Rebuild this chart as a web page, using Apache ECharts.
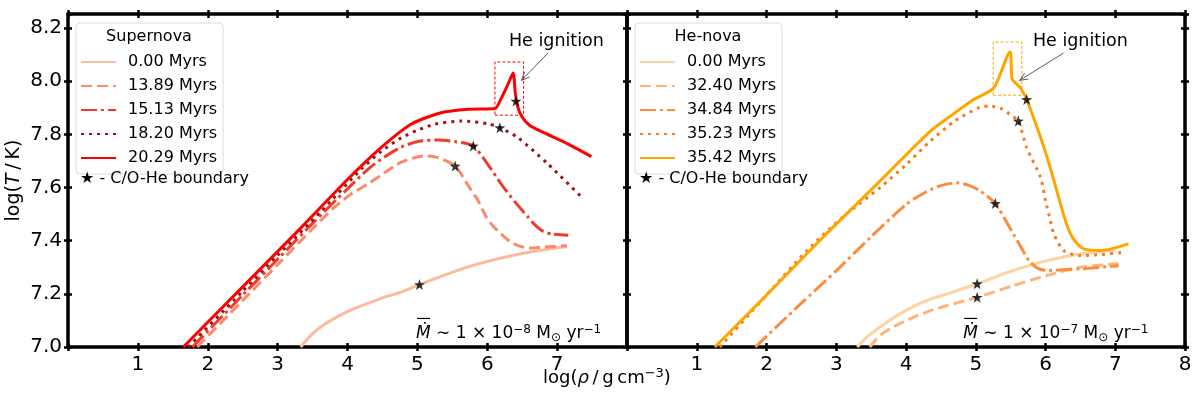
<!DOCTYPE html>
<html>
<head>
<meta charset="utf-8">
<script src="https://cdn.jsdelivr.net/npm/echarts@6/dist/echarts.min.js"></script>
<style>
html,body{margin:0;padding:0;background:#fff;}
#chart{width:1200px;height:395px;}
</style>
</head>
<body>
<div id="chart"></div>
<script>
// ---------------- DATA ----------------
const xTickLabelsLeft = [1, 2, 3, 4, 5, 6, 7];
const xTickLabelsRight = [1, 2, 3, 4, 5, 6, 7, 8];
const yTickLabels = ['7.0', '7.2', '7.4', '7.6', '7.8', '8.0', '8.2'];

const snTitle = 'Supernova';
const hnTitle = 'He-nova';
const snNames = ['0.00 Myrs', '13.89 Myrs', '15.13 Myrs', '18.20 Myrs', '20.29 Myrs'];
const hnNames = ['0.00 Myrs', '32.40 Myrs', '34.84 Myrs', '35.23 Myrs', '35.42 Myrs'];

// Supernova panel
const sn0x = [3.33, 3.5, 3.7, 3.9, 4.1, 4.3, 4.5, 4.75, 5.03, 5.3, 5.6, 5.9, 6.2, 6.5, 6.8, 7.14];
const sn0y = [7.0, 7.05, 7.09, 7.12, 7.145, 7.165, 7.185, 7.205, 7.235, 7.262, 7.29, 7.315, 7.335, 7.352, 7.365, 7.378];
const sn1x = [1.85, 2.5, 3.0, 3.5, 3.81, 4.05, 4.29, 4.53, 4.77, 5.1, 5.3, 5.54, 5.72, 5.87, 5.99, 6.1, 6.2, 6.32, 6.44, 6.6, 6.78, 7.14];
const sn1y = [7.0, 7.175, 7.31, 7.445, 7.525, 7.575, 7.613, 7.655, 7.695, 7.719, 7.712, 7.681, 7.61, 7.55, 7.487, 7.45, 7.425, 7.398, 7.381, 7.372, 7.375, 7.381];
const sn2x = [1.78, 2.5, 3.0, 3.5, 4.0, 4.3, 4.53, 4.77, 5.01, 5.3, 5.55, 5.8, 6.0, 6.2, 6.4, 6.59, 6.68, 6.8, 6.92, 7.16];
const sn2y = [7.0, 7.195, 7.33, 7.465, 7.595, 7.67, 7.715, 7.752, 7.773, 7.779, 7.772, 7.756, 7.69, 7.613, 7.545, 7.487, 7.46, 7.435, 7.425, 7.42];
const sn3x = [1.72, 2.5, 3.0, 3.62, 4.2, 4.48, 4.77, 5.0, 5.25, 5.63, 6.01, 6.18, 6.44, 6.87, 7.33];
const sn3y = [7.0, 7.21, 7.345, 7.51, 7.67, 7.735, 7.787, 7.815, 7.838, 7.85, 7.84, 7.825, 7.787, 7.688, 7.569];
const sn4x = [1.65, 2.5, 3.34, 4.0, 4.48, 4.91, 5.34, 5.73, 6.11, 6.2, 6.3, 6.37, 6.4, 6.43, 6.49, 6.6, 6.78, 7.16, 7.49];
const sn4y = [7.0, 7.226, 7.45, 7.63, 7.75, 7.838, 7.881, 7.894, 7.897, 7.935, 7.99, 8.031, 7.96, 7.91, 7.869, 7.835, 7.81, 7.763, 7.716];
const snStarX = [5.03, 5.54, 5.80, 6.18, 6.41];
const snStarY = [7.235, 7.681, 7.756, 7.825, 7.925];
const snBoxX = [6.11, 6.52, 6.52, 6.11, 6.11];
const snBoxY = [7.872, 7.872, 8.072, 8.072, 7.872];

// He-nova panel
const hn0x = [3.30, 3.45, 3.63, 3.85, 4.11, 4.35, 4.59, 5.02, 5.54, 6.02, 6.5, 6.75, 7.0];
const hn0y = [7.0, 7.04, 7.075, 7.115, 7.153, 7.18, 7.2, 7.238, 7.288, 7.325, 7.35, 7.358, 7.365];
const hn1x = [3.48, 3.63, 3.85, 4.11, 4.35, 4.59, 5.02, 5.54, 6.02, 6.5, 7.05];
const hn1y = [7.0, 7.044, 7.08, 7.112, 7.137, 7.156, 7.187, 7.231, 7.269, 7.30, 7.313];
const hn2x = [1.84, 2.5, 3.01, 3.5, 4.01, 4.3, 4.5, 4.73, 4.9, 5.06, 5.28, 5.42, 5.54, 5.66, 5.78, 5.9, 6.02, 6.5, 7.05];
const hn2y = [7.0, 7.165, 7.289, 7.415, 7.538, 7.585, 7.607, 7.618, 7.608, 7.588, 7.54, 7.48, 7.425, 7.37, 7.319, 7.295, 7.288, 7.294, 7.306];
const hn3x = [1.33, 2.0, 2.58, 3.1, 3.63, 4.01, 4.35, 4.7, 5.06, 5.21, 5.38, 5.49, 5.61, 5.73, 5.93, 6.0, 6.07, 6.12, 6.26, 6.5, 6.8, 7.12];
const hn3y = [7.0, 7.195, 7.363, 7.49, 7.6, 7.688, 7.775, 7.85, 7.902, 7.906, 7.895, 7.875, 7.85, 7.75, 7.637, 7.55, 7.475, 7.425, 7.363, 7.344, 7.348, 7.356];
const hn4x = [1.26, 2.0, 2.8, 3.63, 4.01, 4.35, 4.67, 4.97, 5.26, 5.49, 5.52, 5.58, 5.64, 5.73, 5.93, 6.05, 6.17, 6.28, 6.36, 6.45, 6.55, 6.79, 7.19];
const hn4y = [7.0, 7.195, 7.41, 7.625, 7.725, 7.812, 7.875, 7.931, 7.975, 8.11, 8.01, 7.99, 7.975, 7.931, 7.788, 7.69, 7.58, 7.48, 7.425, 7.39, 7.369, 7.363, 7.388];
const hnStarX = [5.02, 5.02, 5.28, 5.61, 5.73];
const hnStarY = [7.238, 7.187, 7.54, 7.85, 7.931];
const hnBoxX = [5.25, 5.66, 5.66, 5.25, 5.25];
const hnBoxY = [7.947, 7.947, 8.147, 8.147, 7.947];

// ---------------- STYLE ----------------
const FONT = 'DejaVu Sans';
const snColors = ['#fcbba1', '#fb8a6a', '#ef3b2c', '#a50f15', '#ff0000'];
const hnColors = ['#fdd49e', '#fdb57c', '#fd8d3c', '#f87a20', '#ffa500'];
const dashTypes = ['solid', [11, 5], [16, 4, 3, 4], [3, 5], 'solid'];
const STAR = 'path://M0,-10 L2.35,-3.24 L9.51,-3.09 L3.80,1.24 L5.88,8.09 L0,4 L-5.88,8.09 L-3.80,1.24 L-9.51,-3.09 L-2.35,-3.24 Z';

function zip(xs, ys) { return xs.map((x, i) => [x, ys[i]]); }

const chart = echarts.init(document.getElementById('chart'), null, { renderer: 'canvas' });

const gridTop = 14, gridBottom = 48;
const grids = [
  { left: 68, right: 1200 - 627, top: gridTop, bottom: gridBottom },
  { left: 627, right: 1200 - 1185, top: gridTop, bottom: gridBottom }
];

const AXW = 3.5, TKW = 2.5, TKL = 4;
function xAxes(g, labels) {
  const base = { type: 'value', gridIndex: g, min: 0, max: 8, interval: 1, splitLine: { show: false } };
  return [
    Object.assign({}, base, {
      position: 'bottom',
      axisLine: { show: true, onZero: false, lineStyle: { color: '#000', width: AXW } },
      axisTick: { show: true, inside: false, length: TKL, lineStyle: { color: '#000', width: TKW } },
      axisLabel: { show: true, color: '#000', fontSize: 20, fontFamily: FONT, margin: 8,
        formatter: v => labels.indexOf(Math.round(v)) >= 0 && Math.abs(v - Math.round(v)) < 1e-9 ? String(Math.round(v)) : '' }
    }),
    Object.assign({}, base, {
      position: 'bottom',
      axisLine: { show: false, onZero: false },
      axisTick: { show: true, inside: true, length: TKL, lineStyle: { color: '#000', width: TKW } },
      axisLabel: { show: false }
    }),
    Object.assign({}, base, {
      position: 'top',
      axisLine: { show: true, onZero: false, lineStyle: { color: '#000', width: AXW } },
      axisTick: { show: true, inside: false, length: TKL, lineStyle: { color: '#000', width: TKW } },
      axisLabel: { show: false }
    }),
    Object.assign({}, base, {
      position: 'top',
      axisLine: { show: false, onZero: false },
      axisTick: { show: true, inside: true, length: TKL, lineStyle: { color: '#000', width: TKW } },
      axisLabel: { show: false }
    })
  ];
}
function yAxes(g, showLabels) {
  const base = { type: 'value', gridIndex: g, min: 7.0, max: 8.2525, interval: 0.2, splitLine: { show: false } };
  const main = Object.assign({}, base, {
    position: 'left',
    axisLine: { show: true, onZero: false, lineStyle: { color: '#000', width: AXW } },
    axisTick: { show: true, inside: false, length: TKL, lineStyle: { color: '#000', width: TKW } },
    axisLabel: { show: showLabels, color: '#000', fontSize: 20, fontFamily: FONT, margin: 6, showMaxLabel: false,
      formatter: v => { const s = v.toFixed(1); return yTickLabels.indexOf(s) >= 0 && Math.abs(v - parseFloat(s)) < 1e-6 ? s : ''; } }
  });
  if (showLabels) {
    Object.assign(main, {
      name: 'log({it|T}\u2009/\u2009K)', nameLocation: 'middle', nameGap: 44, nameRotate: 90,
      nameTextStyle: { color: '#000', fontSize: 19, fontFamily: FONT,
        rich: { it: { fontStyle: 'italic', fontSize: 19, fontFamily: FONT, color: '#000' } } }
    });
  }
  return [
    main,
    Object.assign({}, base, {
      position: 'left',
      axisLine: { show: false, onZero: false },
      axisTick: { show: true, inside: true, length: TKL, lineStyle: { color: '#000', width: TKW } },
      axisLabel: { show: false }
    }),
    Object.assign({}, base, {
      position: 'right',
      axisLine: { show: true, onZero: false, lineStyle: { color: '#000', width: AXW } },
      axisTick: { show: true, inside: false, length: TKL, lineStyle: { color: '#000', width: TKW } },
      axisLabel: { show: false }
    }),
    Object.assign({}, base, {
      position: 'right',
      axisLine: { show: false, onZero: false },
      axisTick: { show: true, inside: true, length: TKL, lineStyle: { color: '#000', width: TKW } },
      axisLabel: { show: false }
    })
  ];
}

const snCurves = [[sn0x, sn0y], [sn1x, sn1y], [sn2x, sn2y], [sn3x, sn3y], [sn4x, sn4y]];
const hnCurves = [[hn0x, hn0y], [hn1x, hn1y], [hn2x, hn2y], [hn3x, hn3y], [hn4x, hn4y]];

const series = [];
function addPanel(g, prefix, names, curves, colors, starX, starY, boxX, boxY) {
  curves.forEach((c, i) => {
    series.push({
      type: 'line', name: prefix + names[i], xAxisIndex: g * 4, yAxisIndex: g * 4,
      data: zip(c[0], c[1]), showSymbol: false, symbol: 'none', smooth: 0.25, z: 3 + i,
      color: colors[i],
      lineStyle: { color: colors[i], width: 3, type: dashTypes[i], cap: 'butt' },
      emphasis: { disabled: true }, animation: false
    });
  });
  series.push({
    type: 'line', name: prefix + 'box', xAxisIndex: g * 4, yAxisIndex: g * 4,
    data: zip(boxX, boxY), symbol: 'none', smooth: false, z: 2,
    lineStyle: { color: colors[4], width: 1, type: [3, 2] }, animation: false, silent: true
  });
  series.push({
    type: 'scatter', name: prefix + 'stars', xAxisIndex: g * 4, yAxisIndex: g * 4,
    data: zip(starX, starY), symbol: STAR, symbolSize: 11, z: 10,
    itemStyle: { color: '#000' }, animation: false, silent: true
  });
}
addPanel(0, 'SN ', snNames, snCurves, snColors, snStarX, snStarY, snBoxX, snBoxY);
addPanel(1, 'HN ', hnNames, hnCurves, hnColors, hnStarX, hnStarY, hnBoxX, hnBoxY);

function legendCfg(left, prefix, names) {
  return {
    orient: 'vertical', left: left, top: 23,
    data: names.map(n => prefix + n),
    formatter: n => n.slice(prefix.length),
    itemWidth: 35, itemHeight: 14, itemGap: 8,
    padding: [31, 6, 8, 4],
    itemStyle: { opacity: 0 },
    backgroundColor: 'rgba(255,255,255,0.8)', borderColor: '#dcdcdc', borderWidth: 1, borderRadius: 4,
    textStyle: { color: '#000', fontSize: 16, fontFamily: FONT, padding: [0, 0, 0, 7] },
    selectedMode: false
  };
}

chart.setOption({
  animation: false,
  backgroundColor: '#fff',
  grid: grids,
  xAxis: xAxes(0, xTickLabelsLeft).concat(xAxes(1, xTickLabelsRight)),
  yAxis: yAxes(0, true).concat(yAxes(1, false)),
  legend: [legendCfg(76, 'SN ', snNames), legendCfg(635, 'HN ', hnNames)],
  series: series
});

// ---------------- ANNOTATIONS ----------------
const annText = 'He ignition';
const snAnn = { text: [6.99, 8.15], tail: [6.87, 8.106], head: [6.49, 8.003] };
const hnAnn = { text: [6.5, 8.15], tail: [6.26, 8.106], head: [5.63, 8.003] };
const mdotPos = [[4.98, 7.051], [4.82, 7.051]];
const mdotExp = ['−8', '−7'];

function px(g, p) { return chart.convertToPixel({ xAxisIndex: g * 4, yAxisIndex: g * 4 }, p); }
function arrow(p0, p1) {
  const dx = p1[0] - p0[0], dy = p1[1] - p0[1], L = Math.hypot(dx, dy), ux = dx / L, uy = dy / L;
  const hl = 8, hw = 3.5;
  const b = [p1[0] - ux * hl, p1[1] - uy * hl];
  const l = [b[0] - uy * hw, b[1] + ux * hw], r = [b[0] + uy * hw, b[1] - ux * hw];
  return [
    { type: 'line', shape: { x1: p0[0], y1: p0[1], x2: p1[0], y2: p1[1] }, style: { stroke: '#333', lineWidth: 0.8 }, z: 20 },
    { type: 'polyline', shape: { points: [l, p1, r] }, style: { stroke: '#333', lineWidth: 0.8, fill: null }, z: 20 }
  ];
}
const graphics = [];
[[0, snAnn], [1, hnAnn]].forEach(([g, a]) => {
  const t = px(g, a.text);
  graphics.push({ type: 'text', x: t[0], y: t[1], z: 20,
    style: { text: annText, fontSize: 17.5, fontFamily: FONT, fill: '#000', align: 'center', verticalAlign: 'middle' } });
  arrow(px(g, a.tail), px(g, a.head)).forEach(e => graphics.push(e));
});
// legend titles and star notes
[[149, snTitle, 80], [708, hnTitle, 639]].forEach(([cx, title, sx]) => {
  graphics.push({ type: 'text', x: cx, y: 37, z: 20,
    style: { text: title, fontSize: 16, fontFamily: FONT, fill: '#000', align: 'center', verticalAlign: 'middle' } });
  graphics.push({ type: 'text', x: sx, y: 179, z: 20,
    style: { text: '★ - C/O-He boundary', fontSize: 16, fontFamily: FONT, fill: '#000', align: 'left', verticalAlign: 'middle' } });
});
// accretion rate labels
mdotPos.forEach((p, g) => {
  const q = px(g, p);
  graphics.push({ type: 'text', x: q[0], y: q[1], z: 20,
    style: {
      text: '{it|Ṁ} ∼ 1 × 10{sup|' + mdotExp[g] + '} M{sub|⊙} yr{sup|−1}',
      fontSize: 17, fontFamily: FONT, fill: '#000', align: 'left', verticalAlign: 'middle',
      rich: {
        it: { fontStyle: 'italic', fontSize: 17, fontFamily: FONT },
        sup: { fontSize: 12, fontFamily: FONT, verticalAlign: 'top', padding: [0, 0, 8, 0] },
        sub: { fontSize: 12, fontFamily: FONT, padding: [8, 0, 0, 0] }
      }
    } });
  graphics.push({ type: 'line', shape: { x1: q[0] + 1, y1: q[1] - 15, x2: q[0] + 14, y2: q[1] - 15 },
    style: { stroke: '#000', lineWidth: 1.2 }, z: 20 });
});
// x axis title
graphics.push({ type: 'text', x: 607, y: 378, z: 20,
  style: {
    text: 'log({it|ρ}\u2009/\u2009g\u2009cm{sup|−3})', fontSize: 18, fontFamily: FONT, fill: '#000', align: 'center', verticalAlign: 'middle',
    rich: {
      it: { fontStyle: 'italic', fontSize: 18, fontFamily: FONT },
      sup: { fontSize: 13, fontFamily: FONT, padding: [0, 0, 9, 0] }
    }
  } });
chart.setOption({ graphic: graphics });
</script>
</body>
</html>
